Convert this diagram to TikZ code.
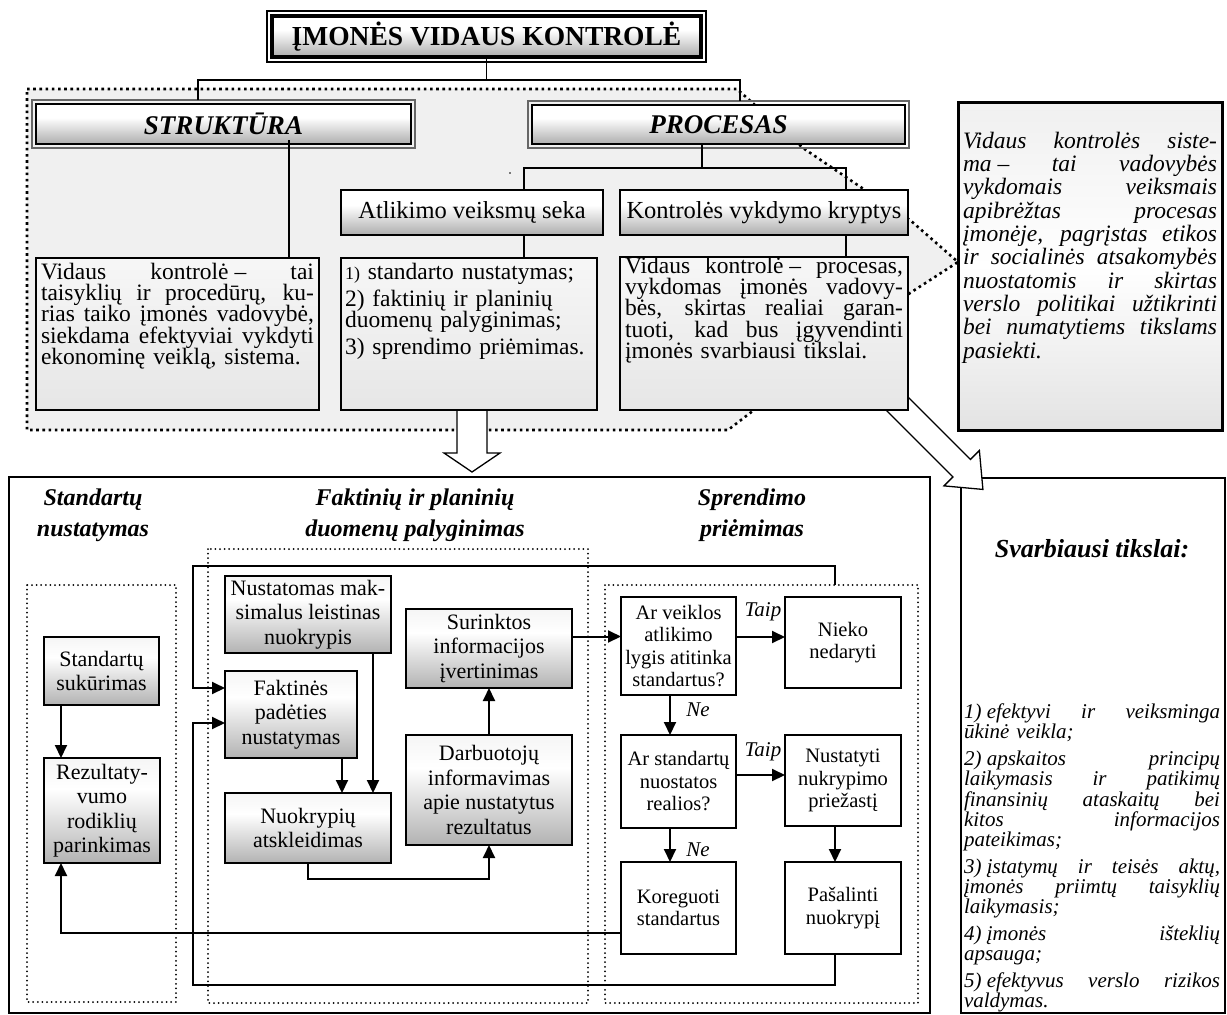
\documentclass[tikz,border=0pt]{standalone}
\usepackage{fontspec}
\setmainfont{Liberation Serif}
\usetikzlibrary{arrows.meta,calc}

\newcommand\fs[2]{\fontsize{#1}{#2}\selectfont\lineskiplimit=-30pt\relax}
\newlength\jlw
% one justified line of width \jlw: the word spaces share the spare room
\newcommand\jl[1]{\leavevmode\hbox to\jlw{\spaceskip=0.25em plus 1fil\relax#1}}
% fixed gap after a list number or before a dash
\newcommand\fsp{\kern0.25em}

% vertical shadings (listed from bottom to top)
\pgfdeclareverticalshading{hdrshade}{100bp}{color(0bp)=(black!55); color(22bp)=(black!35); color(58bp)=(white); color(78bp)=(white); color(100bp)=(black!30)}
\pgfdeclareverticalshading{stepshade}{100bp}{color(0bp)=(black!50); color(25bp)=(black!30); color(60bp)=(white); color(80bp)=(black!5); color(100bp)=(black!28)}
\pgfdeclareverticalshading{noteshade}{100bp}{color(0bp)=(black!22); color(50bp)=(white); color(100bp)=(black!12)}
\pgfdeclareverticalshading{textshade}{100bp}{color(0bp)=(black!13); color(100bp)=(white)}

\tikzset{
  every node/.style={inner sep=0pt, outer sep=0pt},
  conn/.style={line width=1.3pt},
  flow/.style={line width=2pt, -{Triangle[length=13pt,width=12pt]}},
  outerframe/.style={line width=1.3pt},
  hdr/.style={draw, line width=2.6pt, shade, shading=hdrshade, anchor=north west},
  subhdr/.style={draw, line width=2.5pt, shade, shading=hdrshade, anchor=north west, font=\fs{24.5}{26}},
  txtbox/.style={draw, line width=1.5pt, shade, shading=textshade, anchor=north west},
  body/.style={font=\fs{23.5}{21.3}, align=left, anchor=north west},
  notetext/.style={font=\fs{23.5}{23.3}\itshape, align=left, anchor=north west},
  stepbox/.style={draw, line width=2pt, shade, shading=stepshade, align=center, anchor=north west, font=\fs{22}{24.5}},
  choice/.style={draw, line width=2pt, fill=white, align=center, anchor=north west, font=\fs{20.5}{22.5}},
  lbl/.style={font=\fs{21}{21}\itshape},
  coltitle/.style={font=\fs{24}{31}\bfseries\itshape, align=center, anchor=north},
  regdots/.style={line width=2.6pt, dash pattern=on 2.6pt off 3.6pt},
  grpdots/.style={line width=2pt, dash pattern=on 0pt off 4.6pt, line cap=round},
  blockarrow/.style={draw, line width=1.3pt, fill=white, line join=miter},
}

\begin{document}
\begin{tikzpicture}[x=1pt,y=-1pt]
\useasboundingbox (0,0) rectangle (1227,1015);

% ---------------- goals box with its incoming block arrow
\node[draw, line width=1.5pt, minimum width=264pt, minimum height=535pt, anchor=north west] (goals) at (961,478) {};
\node[font=\fs{26}{28}\bfseries\itshape] (goalshd) at (1092,549) {Svarbiausi tikslai:};
\node[font=\fs{21}{20.2}\itshape, text width=256pt, align=left, anchor=north west] (goalslist) at (964,704) {%
\setlength\jlw{256pt}%
\jl{1)\fsp efektyvi ir veiksminga}\\
ūkinė veikla;\\[6.5pt]
\jl{2)\fsp apskaitos principų}\\
\jl{laikymasis ir patikimų}\\
\jl{finansinių ataskaitų bei}\\
\jl{kitos informacijos}\\
pateikimas;\\[6.5pt]
\jl{3)\fsp įstatymų ir teisės aktų,}\\
\jl{įmonės priimtų taisyklių}\\
laikymasis;\\[6.5pt]
\jl{4)\fsp įmonės išteklių}\\
apsauga;\\[6.5pt]
\jl{5)\fsp efektyvus verslo rizikos}\\
valdymas.};

\begin{scope}[shift={(897,403.5)}, rotate=-45]
  \path[blockarrow] (-10,12.4) -- (91.5,12.4) -- (91.5,25) -- (121.5,0) -- (91.5,-25) -- (91.5,-12.4) -- (-10,-12.4) -- cycle;
\end{scope}

% ---------------- shaded region behind the upper part
\fill[black!6] (27,89) -- (737,89) -- (803,148) -- (865,190) -- (910,220) -- (958,262) -- (910,293) -- (754,410) -- (728,430) -- (27,430) -- cycle;
\draw[regdots] (27,89) -- (737,89) -- (803,148) -- (865,190) -- (910,220) -- (958,262) -- (910,293) -- (754,410) -- (728,430) -- (27,430) -- cycle;
\fill (510,173) circle (0.8);

% ---------------- upper tree
\node[draw, line width=4pt, shade, shading=hdrshade, minimum width=429pt, minimum height=41pt, anchor=north west,
      font=\fs{27.5}{29}\bfseries] (title) at (272,16) {ĮMONĖS VIDAUS KONTROLĖ};
\draw[outerframe] ([shift={(-5pt,5pt)}]title.north west) rectangle ([shift={(5pt,-5pt)}]title.south east);

\node[hdr, minimum width=375pt, minimum height=40pt, font=\fs{27}{29}\bfseries\itshape] (struct) at (36,104) {STRUKTŪRA};
\draw[outerframe, draw=black!60] ([shift={(-4pt,4pt)}]struct.north west) rectangle ([shift={(4pt,-4pt)}]struct.south east);
\node[hdr, minimum width=373pt, minimum height=39pt, font=\fs{27}{29}\bfseries\itshape] (proc) at (532,105) {PROCESAS};
\draw[outerframe, draw=black!60] ([shift={(-4pt,4pt)}]proc.north west) rectangle ([shift={(4pt,-4pt)}]proc.south east);

\coordinate (j1) at (198,80);
\coordinate (j2) at (740,80);
\draw[conn] (title.south) -- (title.south |- j1);
\draw[conn] ([yshift=4pt]struct.north -| j1) -- (j1) -- (j2) -- ([yshift=4pt]proc.north -| j2);

\node[subhdr, minimum width=262pt, minimum height=45pt] (atl) at (341,190) {Atlikimo veiksmų seka};
\node[subhdr, minimum width=288pt, minimum height=45pt] (kon) at (620,190) {Kontrolės vykdymo kryptys};

\coordinate (ja) at (524,168);
\coordinate (jp) at (702,168);
\coordinate (jk) at (846,168);
\draw[conn] (proc.south -| jp) -- (jp);
\draw[conn] (atl.north -| ja) -- (ja) -- (jk) -- (kon.north -| jk);

% definition boxes
\node[txtbox, minimum width=283pt, minimum height=152pt] (box1) at (36,258) {};
\node[body, text width=273pt] (box1t) at (41,263) {%
\setlength\jlw{273pt}%
\jl{Vidaus kontrolė\fsp– tai}\\
\jl{taisyklių ir procedūrų, ku-}\\
\jl{rias taiko įmonės vadovybė,}\\
\jl{siekdama efektyviai vykdyti}\\
ekonominę veiklą, sistema.};

\node[txtbox, minimum width=256pt, minimum height=152pt] (box2) at (341,258) {};
\node[body, text width=246pt] (box2t) at (345,263) {%
{\fontsize{18}{21}\selectfont 1)} standarto nustatymas;\\[6pt]
2) faktinių ir planinių\\
duomenų palyginimas;\\[5pt]
3) sprendimo priėmimas.};

\node[txtbox, minimum width=288pt, minimum height=153pt] (box3) at (620,257) {};
\node[body, text width=278pt] (box3t) at (625,257) {%
\setlength\jlw{278pt}%
\jl{Vidaus kontrolė\fsp– procesas,}\\
\jl{vykdomas įmonės vadovy-}\\
\jl{bės, skirtas realiai garan-}\\
\jl{tuoti, kad bus įgyvendinti}\\
įmonės svarbiausi tikslai.};

\coordinate (js) at (289,200);
\draw[conn] ([yshift=4pt]struct.south -| js) -- (box1.north -| js);
\draw[conn] (atl.south -| ja) -- (box2.north -| ja);
\draw[conn] (kon.south -| jk) -- (box3.north -| jk);

% note box on the right
\node[draw, line width=3pt, shade, shading=noteshade, minimum width=264pt, minimum height=328pt, anchor=north west] (note) at (958,102) {};
\node[notetext, text width=254pt] (notet) at (963,132) {%
\setlength\jlw{254pt}%
\jl{Vidaus kontrolės siste-}\\
\jl{ma\fsp– tai vadovybės}\\
\jl{vykdomais veiksmais}\\
\jl{apibrėžtas procesas}\\
\jl{įmonėje, pagrįstas etikos}\\
\jl{ir socialinės atsakomybės}\\
\jl{nuostatomis ir skirtas}\\
\jl{verslo politikai užtikrinti}\\
\jl{bei numatytiems tikslams}\\
pasiekti.};

% ---------------- lower scheme
\node[draw, line width=1.5pt, minimum width=921pt, minimum height=536pt, anchor=north west] (scheme) at (9,477) {};

\node[coltitle] (c1) at (93,489) {Standartų\\nustatymas};
\node[coltitle] (c2) at (415,489) {Faktinių ir planinių\\duomenų palyginimas};
\node[coltitle] (c3) at (752,489) {Sprendimo\\priėmimas};

\draw[grpdots] (27,585) rectangle (176,1002);
\draw[grpdots] (208,549) rectangle (588,1003);
\draw[grpdots] (605,585) rectangle (918,1003);

\node[stepbox, minimum width=115pt, minimum height=68pt] (std1) at (44,637) {Standartų\\sukūrimas};
\node[stepbox, minimum width=116pt, minimum height=105pt] (std2) at (44,758) {Rezultaty-\\vumo\\rodiklių\\parinkimas};

\node[stepbox, minimum width=166pt, minimum height=77pt] (nust) at (225,576) {Nustatomas mak-\\simalus leistinas\\nuokrypis};
\node[stepbox, minimum width=132pt, minimum height=87pt] (fakt) at (225,671) {Faktinės\\padėties\\nustatymas};
\node[stepbox, minimum width=166pt, minimum height=70pt] (nuokr) at (225,793) {Nuokrypių\\atskleidimas};
\node[stepbox, minimum width=166pt, minimum height=79pt] (surink) at (406,609) {Surinktos\\informacijos\\įvertinimas};
\node[stepbox, minimum width=166pt, minimum height=110pt] (darb) at (406,735) {Darbuotojų\\informavimas\\apie nustatytus\\rezultatus};

\node[choice, minimum width=115pt, minimum height=98pt] (q1) at (621,597) {Ar veiklos\\atlikimo\\lygis atitinka\\standartus?};
\node[choice, minimum width=116pt, minimum height=91pt] (nieko) at (785,597) {Nieko\\nedaryti};
\node[choice, minimum width=115pt, minimum height=93pt] (q2) at (621,735) {Ar standartų\\nuostatos\\realios?};
\node[choice, minimum width=116pt, minimum height=91pt] (nusti) at (785,735) {Nustatyti\\nukrypimo\\priežastį};
\node[choice, minimum width=115pt, minimum height=92pt] (koreg) at (621,862) {Koreguoti\\standartus};
\node[choice, minimum width=116pt, minimum height=92pt] (pasal) at (785,862) {Pašalinti\\nuokrypį};

\node[lbl] (taip1) at (763,612) {Taip};
\node[lbl] (ne1) at (698,710) {Ne};
\node[lbl] (taip2) at (763,752) {Taip};
\node[lbl] (ne2) at (698,850) {Ne};

\draw[flow] ([xshift=17pt]std1.south west) -- ([xshift=17pt]std2.north west);
\draw[flow] ([yshift=21pt]koreg.south west) -| ([xshift=17pt]std2.south west);
\draw[flow] ([xshift=-15pt]fakt.south east) -- ([xshift=-15pt]fakt.south east |- nuokr.north);
\draw[flow] ([xshift=-18pt]nust.south east) -- ([xshift=-18pt]nust.south east |- nuokr.north);
\draw[flow] (nuokr.south) -- ++(0,16) -| (darb.south);
\draw[flow] (darb.north) -- (surink.south);
\draw[flow] ([yshift=12pt]surink.east) -- ([yshift=12pt]surink.east -| q1.west);
\draw[flow] ([yshift=9pt]q1.east) -- ([yshift=9pt]q1.east -| nieko.west);
\draw[flow] ([xshift=-8.5pt]q1.south) -- ([xshift=-8.5pt]q1.south |- q2.north);
\draw[flow] ([yshift=6.5pt]q2.east) -- ([yshift=6.5pt]q2.east -| nusti.west);
\draw[flow] ([xshift=-8.5pt]q2.south) -- ([xshift=-8.5pt]q2.south |- koreg.north);
\draw[flow] ([xshift=-8pt]nusti.south) -- ([xshift=-8pt]nusti.south |- pasal.north);
\coordinate (fbtop) at (835,585);
\draw[flow] (fbtop) |- (193,566) |- ([yshift=26.5pt]fakt.west);
\draw[flow] ([xshift=-8pt]pasal.south) |- (193,985) |- ([yshift=-8.5pt]fakt.west);

% block arrow from the step list down to the scheme
\path[blockarrow, draw=none] (457,411) -- (457,453) -- (444,453) -- (472,472) -- (500,453) -- (487,453) -- (487,411) -- cycle;
\draw[blockarrow, fill=none] (457,411) -- (457,453) -- (444,453) -- (472,472) -- (500,453) -- (487,453) -- (487,411);
\end{tikzpicture}
\end{document}
